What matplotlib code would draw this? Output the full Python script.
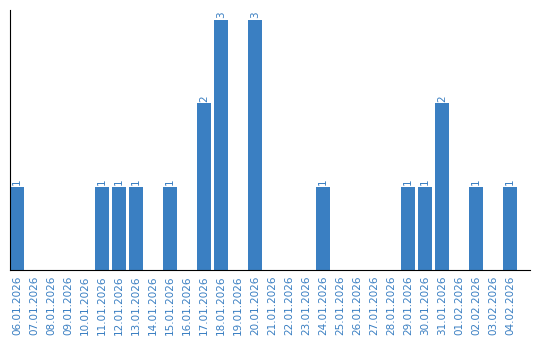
import matplotlib
matplotlib.use("Agg")
import matplotlib.pyplot as plt

dates = ["06.01.2026", "07.01.2026", "08.01.2026", "09.01.2026", "10.01.2026",
         "11.01.2026", "12.01.2026", "13.01.2026", "14.01.2026", "15.01.2026",
         "16.01.2026", "17.01.2026", "18.01.2026", "19.01.2026", "20.01.2026",
         "21.01.2026", "22.01.2026", "23.01.2026", "24.01.2026", "25.01.2026",
         "26.01.2026", "27.01.2026", "28.01.2026", "29.01.2026", "30.01.2026",
         "31.01.2026", "01.02.2026", "02.02.2026", "03.02.2026", "04.02.2026"]
counts = [1, 0, 0, 0, 0, 1, 1, 1, 0, 1, 0, 2, 3, 0, 3,
          0, 0, 0, 1, 0, 0, 0, 0, 1, 1, 2, 0, 1, 0, 1]

color = "#3a7fc2"
fig = plt.figure(figsize=(5.4, 3.4), dpi=100)
ax = fig.add_axes([10/540, 70/340, 520/540, 260/340])
w = 14/17
xs = list(range(len(dates)))
ax.bar(xs, counts, width=w, align='edge', color=color)
for x, c in zip(xs, counts):
    if c > 0:
        ax.text(x + w/2, c + 0.02, str(c), rotation=90, ha='center', va='bottom',
                color=color, fontsize=7.5)
ax.set_xlim(0, 520/17)
ax.set_ylim(0, 3 * 260/250)
ax.set_xticks([x + w/2 for x in xs])
ax.set_xticklabels(dates, rotation=90, color=color, fontsize=7.5)
ax.tick_params(axis='x', length=0, pad=4)
ax.set_yticks([])
for s in ['top', 'right']:
    ax.spines[s].set_visible(False)
ax.spines['left'].set_color('black')
ax.spines['bottom'].set_color('black')
fig.savefig("out.png", dpi=100)
